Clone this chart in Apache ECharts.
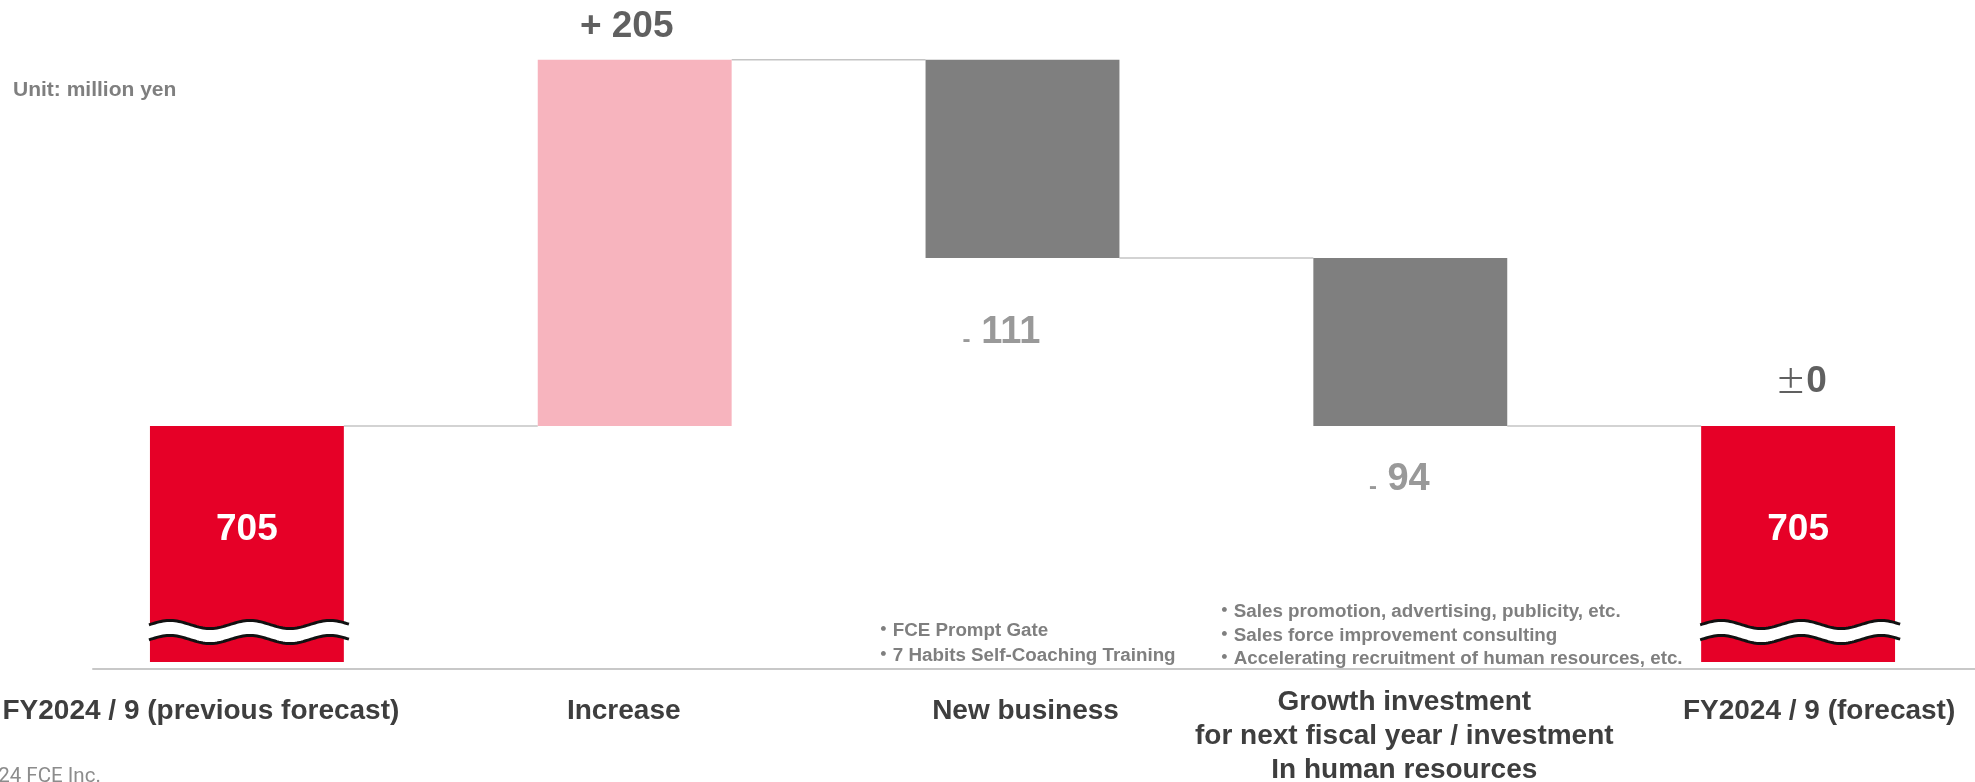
<!DOCTYPE html>
<html>
<head>
<meta charset="utf-8">
<script src="https://cdn.jsdelivr.net/npm/echarts@6/dist/echarts.min.js"></script>
<style>
  html, body { margin: 0; padding: 0; background: #ffffff; }
  #chart { width: 1975px; height: 782px; }
</style>
</head>
<body>
<div id="chart"></div>
<script>
// ---- data ----
const categories = [
  'FY2024 / 9 (previous forecast)',
  'Increase',
  'New business',
  'Growth investment\nfor next fiscal year / investment\nIn human resources',
  'FY2024 / 9 (forecast)'
];
const stepKinds = ['total', 'up', 'down', 'down', 'total'];
const stepValues = [705, 205, 111, 94, 705];
const unitText = 'Unit: million yen';
const newBusinessNotes = ['・FCE Prompt Gate', '・7 Habits Self-Coaching Training'];
const growthNotes = [
  '・Sales promotion, advertising, publicity, etc.',
  '・Sales force improvement consulting',
  '・Accelerating recruitment of human resources, etc.'
];
const copyrightText = '© 2024 FCE Inc.';

// visible window of the (broken) value axis
const Y_MIN = 573;
const Y_MAX = 930;

// ---- styles ----
const FONT = '"Liberation Sans", Arial, "Noto Sans CJK JP", sans-serif';
const barColors = { total: '#E60027', up: '#F7B4BE', down: '#7F7F7F' };
const catLabelPadding = [[9, 92, 0, 0], [9, 22, 0, 0], [9, 0, 0, 6], [0, 12, 0, 0], [9, 0, 0, 42]];
const deltaLabelOffsets = { 1: [-8, 0], 2: [-21, 0], 3: [-11, 0], 4: [3, 0] };
const deltaLabelDistance = { 1: 12, 2: 54, 3: 33, 4: 24 };

// ---- waterfall layout from the step values ----
const bases = [];
const levels = [];
let running = 0;
stepKinds.forEach(function (kind, i) {
  const v = stepValues[i];
  if (kind === 'total') { bases.push(0); running = v; }
  else if (kind === 'up') { bases.push(running); running += v; }
  else { running -= v; bases.push(running); }
  levels.push(running);
});

// connectors run from the right edge of one bar to the left edge of the next
const connectorData = [];
for (let i = 0; i < categories.length - 1; i++) connectorData.push([i, levels[i]]);

// change labels
const deltaData = [];
stepKinds.forEach(function (kind, i) {
  if (i === 0) return;
  let text, position;
  if (kind === 'up') { text = '{up|+ ' + stepValues[i] + '}'; position = 'top'; }
  else if (kind === 'down') { text = '{dm|-}{dv| ' + stepValues[i] + '}'; position = 'bottom'; }
  else {
    const change = stepValues[i] - stepValues[0];
    text = change === 0 ? '{pm|±}{up|0}' : (change > 0 ? '{up|+ ' + change + '}' : '{dm|-}{dv| ' + (-change) + '}');
    position = 'top';
  }
  deltaData.push({
    value: [i, levels[i]],
    label: {
      position: position,
      distance: deltaLabelDistance[i],
      offset: deltaLabelOffsets[i],
      formatter: text
    }
  });
});

// axis-break marks sit on the bars that start at the bottom of the axis
const breakData = [];
stepKinds.forEach(function (kind, i) { if (kind === 'total') breakData.push([i, Y_MIN]); });

function renderConnector(params, api) {
  const i = api.value(0);
  const v = api.value(1);
  const p0 = api.coord([i, v]);
  const p1 = api.coord([i + 1, v]);
  const half = api.size([1, 0])[0] * 0.25;
  return {
    type: 'line',
    shape: { x1: p0[0] + half, y1: p0[1], x2: p1[0] - half, y2: p1[1] },
    style: { stroke: '#c4c4c4', lineWidth: 1.5 }
  };
}

function renderBreak(params, api) {
  const idx = api.value(0);
  const base = api.coord([idx, api.value(1)]);
  const bw = api.size([1, 0])[0] * 0.5;
  const x0 = base[0] - bw / 2 - 1;
  const x1 = base[0] + bw / 2 + 7;
  const topMid = base[1] - 37.5;
  const botMid = base[1] - 22.5;
  const amp = 4, period = 80, phase = 101;
  const top = [], bot = [];
  for (let x = x0; x <= x1 + 0.01; x += 2) {
    const d = -amp * Math.cos(2 * Math.PI * (x - x0 - phase) / period);
    top.push([x, topMid + d]);
    bot.push([x, botMid + d]);
  }
  return {
    type: 'group',
    children: [
      { type: 'polygon', shape: { points: top.concat(bot.slice().reverse()) }, style: { fill: '#ffffff' } },
      { type: 'polyline', shape: { points: top }, style: { stroke: '#111111', lineWidth: 3, fill: null } },
      { type: 'polyline', shape: { points: bot }, style: { stroke: '#111111', lineWidth: 3, fill: null } }
    ]
  };
}

const chart = echarts.init(document.getElementById('chart'), null, { renderer: 'canvas' });

chart.setOption({
  animation: false,
  backgroundColor: '#ffffff',
  grid: [
    { left: 53, width: 1939, top: 24, bottom: 120, containLabel: false, outerBoundsMode: 'none' },
    { left: 93, right: 0, top: 24, bottom: 113, containLabel: false, outerBoundsMode: 'none' }
  ],
  xAxis: [
    {
      type: 'category',
      gridIndex: 0,
      data: categories.map(function (c, i) {
        return { value: c, textStyle: { padding: catLabelPadding[i] } };
      }),
      axisLine: { show: false },
      axisTick: { show: false },
      splitLine: { show: false },
      axisLabel: {
        interval: 0,
        margin: 23,
        color: '#3e3e3e',
        fontFamily: FONT,
        fontSize: 28,
        fontWeight: 'bold',
        lineHeight: 34,
        align: 'center'
      }
    },
    {
      type: 'value',
      gridIndex: 1,
      min: 0,
      max: 1,
      axisLine: { show: true, onZero: false, lineStyle: { color: '#c8c8c8', width: 2 } },
      axisTick: { show: false },
      axisLabel: { show: false },
      splitLine: { show: false }
    }
  ],
  yAxis: [
    { type: 'value', gridIndex: 0, min: Y_MIN, max: Y_MAX, show: false, splitLine: { show: false } },
    { type: 'value', gridIndex: 1, min: 0, max: 1, show: false, splitLine: { show: false } }
  ],
  series: [
    {
      type: 'custom',
      name: 'connectors',
      xAxisIndex: 0, yAxisIndex: 0,
      renderItem: renderConnector,
      data: connectorData,
      silent: true,
      z: 1
    },
    {
      type: 'bar',
      name: 'base',
      stack: 'waterfall',
      barWidth: '50%',
      silent: true,
      itemStyle: { color: 'transparent' },
      data: bases,
      z: 2
    },
    {
      type: 'bar',
      name: 'change',
      stack: 'waterfall',
      barWidth: '50%',
      clip: true,
      z: 2,
      data: stepValues.map(function (v, i) {
        const total = stepKinds[i] === 'total';
        return {
          value: v,
          itemStyle: { color: barColors[stepKinds[i]] },
          label: total ? {
            show: true,
            position: 'insideTop',
            distance: 85,
            formatter: String(v),
            color: '#ffffff',
            fontFamily: FONT,
            fontSize: 37,
            fontWeight: 'bold'
          } : { show: false }
        };
      })
    },
    {
      type: 'custom',
      name: 'breaks',
      xAxisIndex: 0, yAxisIndex: 0,
      renderItem: renderBreak,
      data: breakData,
      silent: true,
      z: 3
    },
    {
      type: 'scatter',
      name: 'deltas',
      symbolSize: 1,
      itemStyle: { color: 'transparent' },
      silent: true,
      z: 5,
      data: deltaData,
      label: {
        show: true,
        fontFamily: FONT,
        rich: {
          up: { fontFamily: FONT, fontSize: 37, fontWeight: 'bold', color: '#383838', lineHeight: 40 },
          dv: { fontFamily: FONT, fontSize: 38, fontWeight: 'bold', color: '#808080', lineHeight: 40 },
          dm: { fontFamily: FONT, fontSize: 24, fontWeight: 'bold', color: '#808080', lineHeight: 37, verticalAlign: 'bottom' },
          pm: { fontFamily: '"Noto Sans CJK JP", sans-serif', fontSize: 31, fontWeight: 'normal', color: '#383838', lineHeight: 40 }
        }
      }
    }
  ],
  graphic: [
    {
      type: 'text',
      x: 13, y: 80,
      style: { text: unitText, fontFamily: FONT, fontSize: 21, fontWeight: 'bold', fill: '#7f7f7f' }
    },
    {
      type: 'text',
      x: 874, y: 618.75,
      style: { text: newBusinessNotes.join('\n'), fontFamily: FONT, fontSize: 18.8, fontWeight: 'bold', fill: '#7f7f7f', lineHeight: 24.5 }
    },
    {
      type: 'text',
      x: 1215, y: 600.25,
      style: { text: growthNotes.join('\n'), fontFamily: FONT, fontSize: 18.8, fontWeight: 'bold', fill: '#7f7f7f', lineHeight: 23.5 }
    },
    {
      type: 'text',
      x: -46, y: 776.5,
      style: { text: copyrightText, fontFamily: 'Roboto, "Noto Sans", sans-serif', fontSize: 20.5, fill: '#8c8c8c', verticalAlign: 'middle' }
    }
  ]
});
</script>
</body>
</html>
